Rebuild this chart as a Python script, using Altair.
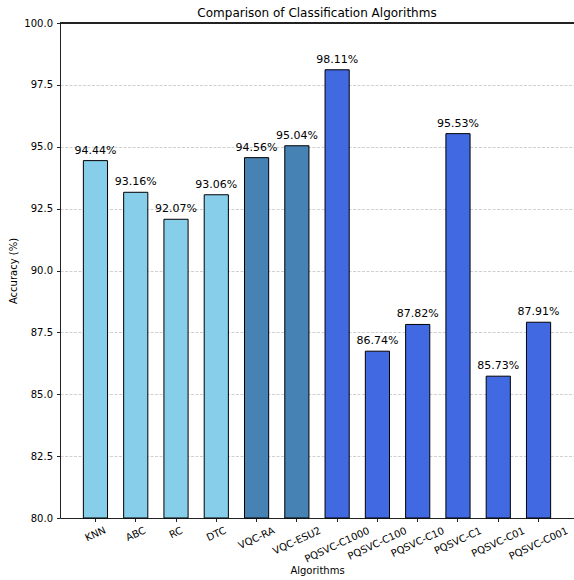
import altair as alt
import pandas as pd

algorithms = ["KNN", "ABC", "RC", "DTC", "VQC-RA", "VQC-ESU2",
              "PQSVC-C1000", "PQSVC-C100", "PQSVC-C10", "PQSVC-C1",
              "PQSVC-C01", "PQSVC-C001"]
accuracy = [94.44, 93.16, 92.07, 93.06, 94.56, 95.04,
            98.11, 86.74, 87.82, 95.53, 85.73, 87.91]
groups = ["Classical"] * 4 + ["VQC"] * 2 + ["PQSVC"] * 6
group_names = ["Classical", "VQC", "PQSVC"]
group_colors = ["#87CEEB", "#4682B4", "#4169E1"]
y_ticks = [80.0, 82.5, 85.0, 87.5, 90.0, 92.5, 95.0, 97.5, 100.0]

df = pd.DataFrame({"Algorithm": algorithms, "Accuracy": accuracy, "Group": groups})

W, H = 514, 495
FONT = "DejaVu Sans"

x_scale = alt.Scale(paddingInner=0.4, paddingOuter=0.58)
x_enc = alt.X(
    "Algorithm:N",
    sort=algorithms,
    scale=x_scale,
    axis=alt.Axis(
        title="Algorithms",
        labels=False,
        tickSize=3.5,
        titleY=55,
        titleBaseline="alphabetic",
        titleFontWeight="normal",
    ),
)

y_scale = alt.Scale(domain=[80, 100], nice=False, zero=False)
y_enc = alt.Y(
    "Accuracy:Q",
    scale=y_scale,
    axis=alt.Axis(
        title="Accuracy (%)",
        values=y_ticks,
        format=".1f",
        grid=True,
        gridColor="#c4c4c4",
        gridDash=[3, 1.5],
        gridWidth=0.8,
        tickSize=3.5,
        labelPadding=4,
        titleX=-47,
        titleY=H / 2,
        titleAngle=270,
        titleAlign="center",
        titleBaseline="middle",
        titleFontWeight="normal",
    ),
)

bars = alt.Chart(df).mark_bar(stroke="black", strokeWidth=1).encode(
    x=x_enc,
    y=y_enc,
    y2=alt.datum(80),
    color=alt.Color("Group:N", scale=alt.Scale(domain=group_names, range=group_colors), legend=None),
)

value_labels = alt.Chart(df).transform_calculate(
    label="format(datum.Accuracy, '.2f') + '%'"
).mark_text(
    dy=-7, baseline="alphabetic", align="center", font=FONT, fontSize=11, color="black"
).encode(
    x=alt.X("Algorithm:N", sort=algorithms),
    y=alt.Y("Accuracy:Q", scale=y_scale),
    text="label:N",
)

# Category labels rotated 25 degrees. The rotated box hangs below the ticks,
# so its centre drops by half the box height (which grows with label length).
# dx/dy act in the rotated frame, hence the sin/cos split of that drop.
half_box = "((length(datum.Algorithm) * 6.4 * 0.4226 + 11.6 * 0.9063) / 2)"
tick_labels = alt.Chart(df).mark_text(
    angle=335,
    align="center",
    baseline="middle",
    font=FONT,
    fontSize=10,
    color="black",
    dx=alt.ExprRef(f"-{half_box} * 0.4226"),
    dy=alt.ExprRef(f"{half_box} * 0.9063"),
).encode(
    x=alt.X("Algorithm:N", sort=algorithms),
    y=alt.value(H + 7),
    text="Algorithm:N",
)

top_spine = alt.Chart(df).mark_rule(color="#222222", strokeWidth=1).encode(
    y=alt.datum(100),
    x=alt.value(0),
    x2=alt.value(W),
)

chart = alt.layer(bars, value_labels, tick_labels, top_spine).properties(
    width=W,
    height=H,
    title=alt.TitleParams(
        "Comparison of Classification Algorithms",
        fontSize=12,
        font=FONT,
        fontWeight="normal",
        color="black",
        anchor="middle",
        baseline="alphabetic",
        offset=7,
        dy=18,
    ),
    autosize=alt.AutoSizeParams(type="none"),
    padding={"left": 60, "top": 23, "right": 0, "bottom": 62},
).configure_view(
    stroke=None
).configure_axis(
    labelFont=FONT,
    titleFont=FONT,
    labelFontSize=10,
    titleFontSize=10,
    labelColor="black",
    titleColor="black",
    domainColor="#222222",
    tickColor="#222222",
    domainWidth=1,
    tickWidth=1,
)

chart.save("out.html", embed_options={"renderer": "svg", "actions": False})
